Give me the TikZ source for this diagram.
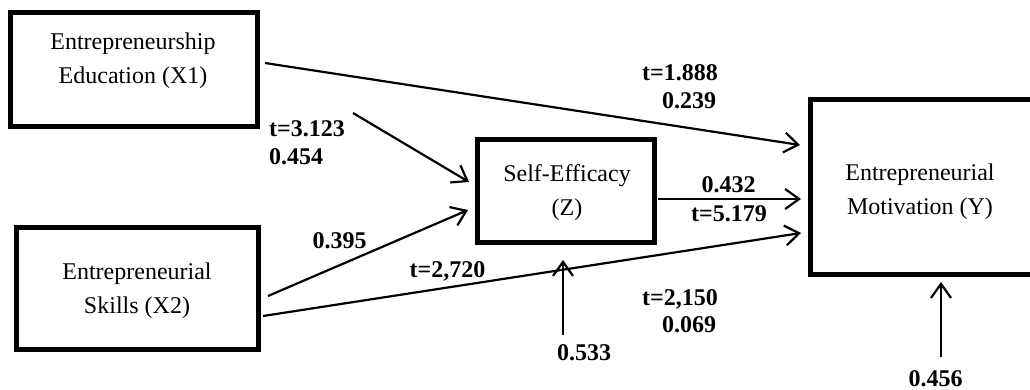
\documentclass[tikz,border=0pt]{standalone}
\usepackage{fontspec}
\setmainfont{Liberation Serif}
\usetikzlibrary{arrows.meta}
\begin{document}
\begin{tikzpicture}[x=1pt,y=-1pt,
  box/.style={draw,line width=5pt,rectangle,inner sep=0pt},
  boxtext/.style={align=center,inner sep=0pt,font=\fontsize{24}{34}\selectfont},
  lab/.style={inner sep=0pt,font=\fontsize{24}{28}\selectfont\bfseries,anchor=base},
  arr/.style={line width=2.2pt,-{Straight Barb[length=14pt,width=20pt,line width=2.2pt]}}
]
\useasboundingbox (0,0) rectangle (1030,390);
\clip (0,0) rectangle (1030,390);
% boxes
\node[box,minimum width=247pt,minimum height=114pt] (x1) at (134,69.5) {};
\node[boxtext] (x1t) at (133,61) {Entrepreneurship\\Education (X1)};
\node[box,minimum width=242pt,minimum height=122pt] (x2) at (137.5,288.5) {};
\node[boxtext] (x2t) at (137,291) {Entrepreneurial\\Skills (X2)};
\node[box,minimum width=177pt,minimum height=103pt] (z) at (566,191) {};
\node[boxtext] (zt) at (567,193) {Self-Efficacy\\(Z)};
\node[box,minimum width=235pt,minimum height=174.5pt] (y) at (927.5,187.25) {};
\node[boxtext] (yt) at (920,192) {Entrepreneurial\\Motivation (Y)};
% connector end points
\coordinate (a1s) at (265,63);  \coordinate (a1e) at (800,145);
\coordinate (a2s) at (353,113); \coordinate (a2e) at (469,182);
\coordinate (a3s) at (268,296); \coordinate (a3e) at (468,210);
\coordinate (a4s) at (263,316); \coordinate (a4e) at (801,233);
\coordinate (a5s) at (658,199); \coordinate (a5e) at (801,199);
\coordinate (e1s) at (563,335); \coordinate (e1e) at (563,260);
\coordinate (e2s) at (941,357); \coordinate (e2e) at (941,282);
% connectors
\draw[arr] (a1s) -- (a1e);
\draw[arr] (a2s) -- (a2e);
\draw[arr] (a3s) -- (a3e);
\draw[arr] (a4s) -- (a4e);
\draw[arr] (a5s) -- (a5e);
\draw[arr] (e1s) -- (e1e);
\draw[arr] (e2s) -- (e2e);
% labels
\node[lab] (l1) at (680,81) {t=1.888};
\node[lab] (l2) at (689,109) {0.239};
\node[lab,anchor=base west] (l3) at (269,137) {t=3.123};
\node[lab,anchor=base west] (l4) at (269,165) {0.454};
\node[lab] (l5) at (339.5,248) {0.395};
\node[lab] (l6) at (447.5,277) {t=2,720};
\node[lab] (l7) at (728.5,193) {0.432};
\node[lab] (l8) at (729,222) {t=5.179};
\node[lab] (l9) at (680,305) {t=2,150};
\node[lab] (l10) at (689,332) {0.069};
\node[lab] (l11) at (584,360) {0.533};
\node[lab] (l12) at (935.5,386) {0.456};
\end{tikzpicture}
\end{document}
